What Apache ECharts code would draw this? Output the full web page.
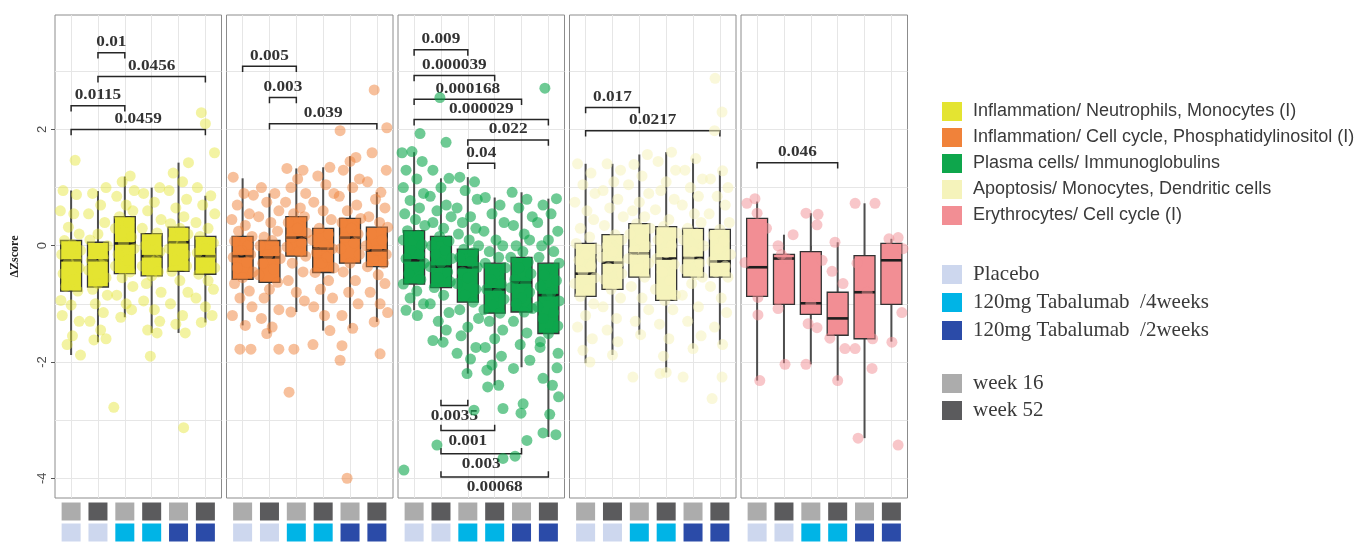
<!DOCTYPE html>
<html>
<head>
<meta charset="utf-8">
<script src="https://cdn.jsdelivr.net/npm/echarts@6/dist/echarts.min.js"></script>
<style>
html,body{margin:0;padding:0;background:#fff;}
#chart{width:1359px;height:543px;}
</style>
</head>
<body>
<div id="chart"></div>
<script>
// ---- categories and keys ----
const pathways = [
  'Inflammation/ Neutrophils, Monocytes (I)',
  'Inflammation/ Cell cycle, Phosphatidylinositol (I)',
  'Plasma cells/ Immunoglobulins',
  'Apoptosis/ Monocytes, Dendritic cells',
  'Erythrocytes/ Cell cycle (I)'
];
const pathwayColors = ['#e4e431', '#f0823a', '#0ea64c', '#f5f3bb', '#f28e94'];
const pointOpacity = [0.45, 0.5, 0.6, 0.55, 0.5];
const treatments = ['Placebo', '120mg Tabalumab  /4weeks', '120mg Tabalumab  /2weeks'];
const treatmentColors = ['#cdd7ee', '#00b4e6', '#2b4ba8'];
const weeks = ['week 16', 'week 52'];
const weekColors = ['#acacac', '#5b5b5d'];
// group order inside every panel
const groupTreatment = [0, 0, 1, 1, 2, 2];
const groupWeek = [0, 1, 0, 1, 0, 1];
const yTickLabels = [-4, -2, 0, 2];
const yGridValues = [-4, -3, -2, -1, 0, 1, 2, 3];
const xGroups = [1, 2, 3, 4, 5, 6];

// ---- box statistics: [lower whisker, Q1, median, Q3, upper whisker] ----
const boxesNeutro = [
  [-1.88, -0.78, -0.25, 0.09, 0.95],
  [-1.66, -0.71, -0.25, 0.06, 0.94],
  [-1.23, -0.48, 0.04, 0.50, 1.19],
  [-1.50, -0.52, -0.18, 0.21, 1.00],
  [-1.50, -0.44, 0.06, 0.32, 1.43],
  [-1.32, -0.49, -0.18, 0.16, 0.86]
];
const boxesCellCycle = [
  [-1.37, -0.58, -0.18, 0.16, 1.16],
  [-1.51, -0.63, -0.20, 0.09, 0.90],
  [-1.14, -0.18, 0.14, 0.50, 1.33],
  [-1.46, -0.46, -0.05, 0.30, 1.35],
  [-1.42, -0.30, 0.14, 0.47, 1.54],
  [-1.31, -0.36, -0.08, 0.32, 0.92]
];
const boxesPlasma = [
  [-1.11, -0.66, -0.25, 0.26, 1.61],
  [-1.63, -0.72, -0.36, 0.16, 1.16],
  [-2.20, -0.97, -0.37, -0.06, 1.18],
  [-2.40, -1.16, -0.75, -0.30, 0.83],
  [-2.09, -1.14, -0.63, -0.20, 0.92],
  [-3.29, -1.51, -0.85, -0.30, 0.81]
];
const boxesApoptosis = [
  [-2.02, -0.87, -0.48, 0.04, 1.41],
  [-1.88, -0.75, -0.29, 0.19, 1.41],
  [-1.53, -0.54, -0.13, 0.38, 1.57],
  [-2.18, -0.94, -0.22, 0.33, 1.61],
  [-1.77, -0.54, -0.21, 0.30, 1.50],
  [-1.70, -0.54, -0.27, 0.28, 1.29]
];
const boxesErythro = [
  [-2.32, -0.87, -0.37, 0.47, 0.76],
  [-2.02, -1.01, -0.22, -0.15, 0.19],
  [-2.04, -1.18, -0.99, -0.10, 0.56],
  [-2.32, -1.54, -1.25, -0.80, 0.06],
  [-3.31, -1.60, -0.80, -0.17, 0.73],
  [-1.65, -1.01, -0.25, 0.04, 0.12]
];

// ---- individual scores per group: [jitter offset, ΔZscore] ----
const pointsNeutro = [
  [[0.15,1.47],[-0.3,0.95],[0.2,0.88],[-0.4,0.6],[0.1,0.55],[-0.1,0.32],[0.3,0.2],[-0.25,0.09],[0.05,0.02],[0.35,-0.08],[-0.35,-0.15],[0.2,-0.22],[-0.1,-0.28],[0.3,-0.38],[-0.3,-0.48],[0.1,-0.58],[-0.2,-0.7],[0.25,-0.78],[-0.38,-0.94],[0.0,-1.02],[-0.33,-1.2],[0.3,-1.3],[0.05,-1.55],[-0.15,-1.7],[0.35,-1.88]],
  [[0.3,1.0],[-0.2,0.9],[0.1,0.7],[-0.35,0.55],[0.25,0.4],[0.0,0.2],[-0.3,0.1],[0.35,0.0],[-0.1,-0.1],[0.2,-0.2],[-0.25,-0.25],[0.1,-0.32],[-0.35,-0.42],[0.3,-0.55],[0.0,-0.65],[-0.2,-0.75],[0.35,-0.85],[-0.1,-1.0],[0.2,-1.15],[-0.3,-1.3],[0.1,-1.45],[-0.15,-1.62],[0.3,-1.6]],
  [[-0.41,-2.78],[0.2,1.2],[-0.1,1.1],[0.35,0.95],[-0.3,0.85],[0.05,0.7],[0.3,0.6],[-0.2,0.5],[0.15,0.4],[-0.35,0.3],[0.25,0.15],[-0.05,0.05],[0.35,-0.05],[-0.25,-0.15],[0.1,-0.25],[-0.35,-0.35],[0.2,-0.45],[-0.1,-0.55],[0.3,-0.7],[-0.3,-0.85],[0.05,-1.0],[0.25,-1.1],[-0.15,-1.23]],
  [[-0.05,-1.9],[0.3,1.0],[-0.3,0.9],[0.1,0.75],[-0.15,0.6],[0.35,0.45],[-0.35,0.3],[0.2,0.22],[0.0,0.1],[-0.25,0.0],[0.3,-0.1],[-0.1,-0.18],[0.15,-0.25],[-0.35,-0.35],[0.25,-0.45],[0.0,-0.52],[-0.2,-0.65],[0.35,-0.8],[-0.3,-0.95],[0.1,-1.1],[0.3,-1.3],[-0.15,-1.45],[0.2,-1.5]],
  [[0.19,-3.13],[0.37,1.43],[-0.2,1.25],[0.15,1.1],[-0.35,0.95],[0.3,0.8],[-0.1,0.65],[0.2,0.5],[-0.3,0.38],[0.05,0.3],[0.35,0.2],[-0.2,0.1],[0.1,0.03],[-0.35,-0.05],[0.25,-0.15],[-0.1,-0.25],[0.3,-0.35],[-0.25,-0.44],[0.05,-0.6],[0.35,-0.8],[-0.3,-1.0],[0.15,-1.2],[-0.1,-1.35],[0.25,-1.5]],
  [[-0.15,2.29],[0.0,2.1],[0.34,1.6],[-0.3,1.0],[0.2,0.86],[-0.1,0.7],[0.35,0.55],[-0.35,0.4],[0.1,0.3],[-0.2,0.16],[0.3,0.05],[0.0,-0.05],[-0.3,-0.12],[0.2,-0.18],[-0.1,-0.28],[0.35,-0.38],[-0.25,-0.49],[0.1,-0.6],[0.3,-0.75],[-0.35,-0.9],[0.0,-1.05],[0.25,-1.2],[-0.15,-1.32]]
];
const pointsCellCycle = [
  [[-0.1,-1.78],[0.31,-1.78],[-0.35,1.18],[0.05,0.9],[0.4,0.87],[-0.2,0.7],[0.25,0.55],[-0.4,0.45],[0.1,0.35],[-0.15,0.25],[0.35,0.16],[-0.3,0.08],[0.2,0.0],[-0.05,-0.08],[0.3,-0.15],[-0.35,-0.2],[0.15,-0.28],[-0.2,-0.38],[0.4,-0.45],[0.0,-0.55],[-0.3,-0.65],[0.25,-0.78],[-0.1,-0.9],[0.35,-1.05],[-0.38,-1.2],[0.1,-1.37]],
  [[0.35,-1.78],[-0.3,1.0],[0.2,0.9],[-0.1,0.75],[0.35,0.6],[-0.4,0.5],[0.05,0.4],[0.3,0.25],[-0.2,0.15],[0.1,0.09],[-0.35,0.0],[0.25,-0.08],[-0.05,-0.15],[0.4,-0.22],[-0.25,-0.3],[0.15,-0.4],[-0.4,-0.5],[0.3,-0.63],[0.0,-0.75],[-0.2,-0.9],[0.35,-1.1],[-0.3,-1.25],[0.1,-1.4],[-0.1,-1.51]],
  [[-0.27,-2.52],[-0.09,-1.78],[-0.35,1.33],[0.25,1.3],[0.05,1.15],[-0.2,1.0],[0.35,0.9],[-0.4,0.75],[0.15,0.65],[-0.1,0.55],[0.3,0.5],[-0.3,0.4],[0.05,0.3],[0.4,0.22],[-0.2,0.14],[0.2,0.05],[-0.35,-0.02],[0.1,-0.1],[0.35,-0.18],[-0.15,-0.3],[0.25,-0.45],[-0.3,-0.6],[0.0,-0.8],[0.3,-0.95],[-0.2,-1.14]],
  [[-0.38,-1.7],[0.25,1.35],[-0.2,1.2],[0.1,1.05],[0.4,0.9],[-0.35,0.75],[0.0,0.6],[0.3,0.45],[-0.15,0.3],[0.2,0.2],[-0.4,0.1],[0.05,0.0],[0.35,-0.05],[-0.25,-0.12],[0.15,-0.2],[-0.05,-0.3],[0.4,-0.38],[-0.3,-0.46],[0.2,-0.6],[-0.1,-0.75],[0.35,-0.9],[-0.35,-1.05],[0.05,-1.2],[0.25,-1.46]],
  [[-0.11,-4.0],[-0.37,-1.97],[-0.3,-1.72],[-0.37,1.98],[0.22,1.52],[0.0,1.45],[-0.25,1.3],[0.35,1.15],[0.1,1.0],[-0.4,0.85],[0.25,0.7],[-0.1,0.6],[0.4,0.47],[-0.3,0.4],[0.05,0.3],[0.3,0.2],[-0.2,0.14],[0.15,0.05],[-0.35,-0.05],[0.35,-0.15],[0.0,-0.3],[-0.25,-0.45],[0.2,-0.6],[-0.05,-0.8],[0.3,-1.0],[-0.3,-1.2],[0.1,-1.42]],
  [[-0.1,2.68],[0.37,2.03],[-0.18,1.6],[0.35,1.3],[-0.35,1.1],[0.15,0.92],[-0.05,0.8],[0.3,0.65],[-0.3,0.5],[0.1,0.4],[0.4,0.32],[-0.2,0.2],[0.2,0.1],[-0.4,0.0],[0.0,-0.08],[0.35,-0.15],[-0.15,-0.22],[0.25,-0.3],[-0.35,-0.36],[0.05,-0.5],[0.3,-0.65],[-0.25,-0.8],[0.12,-1.0],[0.4,-1.15],[0.12,-1.86],[-0.1,-1.31]]
];
const pointsPlasma = [
  [[-0.38,-3.86],[0.22,1.93],[-0.45,1.6],[-0.08,1.62],[0.3,1.45],[-0.3,1.3],[0.1,1.15],[-0.4,1.0],[0.35,0.9],[-0.15,0.78],[0.2,0.65],[-0.35,0.55],[0.05,0.45],[0.4,0.35],[-0.25,0.26],[0.15,0.18],[-0.4,0.1],[0.3,0.02],[-0.1,-0.08],[0.2,-0.15],[-0.3,-0.22],[0.38,-0.3],[0.0,-0.38],[-0.2,-0.48],[0.25,-0.58],[-0.4,-0.66],[0.1,-0.78],[-0.15,-0.9],[0.35,-1.0],[0.12,-1.2],[-0.3,-1.11]],
  [[-0.15,-3.43],[-0.04,2.55],[0.19,1.78],[-0.3,1.3],[0.3,1.16],[0.0,1.0],[-0.4,0.85],[0.2,0.7],[-0.15,0.6],[0.38,0.5],[-0.3,0.4],[0.1,0.3],[-0.05,0.16],[0.3,0.08],[-0.35,0.0],[0.15,-0.08],[-0.2,-0.15],[0.4,-0.22],[0.0,-0.3],[-0.4,-0.36],[0.25,-0.45],[-0.1,-0.55],[0.35,-0.62],[-0.25,-0.72],[0.1,-0.85],[-0.4,-1.0],[0.3,-1.15],[-0.1,-1.3],[0.2,-1.45],[0.08,-1.66],[-0.3,-1.63]],
  [[0.23,-2.83],[-0.4,-1.85],[-0.03,-2.2],[-0.3,1.18],[0.25,1.1],[-0.1,0.95],[0.35,0.8],[-0.4,0.65],[0.1,0.5],[-0.2,0.4],[0.3,0.3],[-0.35,0.2],[0.05,0.1],[0.4,0.0],[-0.15,-0.06],[0.2,-0.12],[-0.3,-0.2],[0.1,-0.28],[0.35,-0.37],[-0.2,-0.45],[0.0,-0.55],[-0.4,-0.65],[0.3,-0.75],[-0.1,-0.85],[0.2,-0.97],[-0.3,-1.1],[0.4,-1.25],[0.0,-1.4],[-0.25,-1.55],[0.3,-1.75],[0.1,-1.95]],
  [[0.31,-2.8],[0.31,-3.66],[-0.29,-2.14],[-0.26,-2.43],[0.15,-2.4],[-0.35,0.83],[0.2,0.7],[-0.1,0.55],[0.35,0.4],[-0.4,0.25],[0.05,0.1],[0.3,0.0],[-0.2,-0.1],[0.15,-0.2],[-0.35,-0.3],[0.4,-0.38],[0.0,-0.48],[-0.15,-0.58],[0.25,-0.66],[-0.3,-0.75],[0.1,-0.82],[0.35,-0.92],[-0.05,-1.02],[-0.4,-1.1],[0.2,-1.16],[-0.2,-1.3],[0.3,-1.45],[0.0,-1.6],[-0.35,-1.75],[0.25,-1.9],[-0.1,-2.05]],
  [[0.06,-2.72],[-0.02,-2.88],[0.2,-3.35],[-0.24,-3.62],[-0.3,-2.11],[0.31,-1.97],[-0.35,0.92],[0.2,0.8],[-0.1,0.65],[0.4,0.5],[-0.3,0.35],[0.1,0.2],[0.3,0.1],[-0.2,0.0],[0.05,-0.1],[-0.4,-0.2],[0.25,-0.28],[-0.1,-0.38],[0.35,-0.48],[-0.25,-0.58],[0.15,-0.63],[-0.4,-0.72],[0.3,-0.8],[0.0,-0.9],[-0.2,-1.0],[0.4,-1.08],[0.1,-1.14],[-0.3,-1.3],[0.2,-1.5],[-0.05,-1.7]],
  [[-0.13,2.71],[-0.2,-3.22],[0.28,-3.25],[-0.2,-2.28],[0.32,-2.1],[-0.31,-1.75],[0.36,-1.85],[0.3,0.81],[-0.2,0.7],[0.1,0.55],[-0.4,0.4],[0.35,0.25],[0.0,0.1],[-0.25,0.0],[0.2,-0.1],[-0.35,-0.2],[0.4,-0.3],[0.05,-0.4],[-0.15,-0.5],[0.3,-0.6],[-0.3,-0.7],[0.1,-0.8],[-0.05,-0.85],[0.4,-0.95],[-0.4,-1.05],[0.2,-1.15],[-0.2,-1.25],[0.35,-1.38],[0.0,-1.51],[-0.3,-1.65],[0.15,-2.4],[0.05,-2.9],[0.38,-2.6]]
];
const pointsApoptosis = [
  [[0.16,-2.0],[-0.3,1.41],[0.2,1.25],[-0.1,1.05],[0.35,0.9],[-0.4,0.75],[0.05,0.6],[0.3,0.45],[-0.2,0.3],[0.15,0.15],[-0.35,0.04],[0.4,-0.05],[0.0,-0.15],[-0.25,-0.25],[0.2,-0.35],[-0.1,-0.45],[0.35,-0.55],[-0.4,-0.65],[0.1,-0.75],[-0.2,-0.87],[0.3,-1.0],[0.0,-1.2],[-0.3,-1.4],[0.25,-1.6],[-0.1,-1.8]],
  [[-0.2,1.41],[0.3,1.3],[0.05,1.1],[-0.35,0.95],[0.2,0.8],[-0.1,0.65],[0.4,0.5],[-0.3,0.35],[0.1,0.19],[0.35,0.1],[-0.2,0.0],[0.0,-0.1],[-0.4,-0.2],[0.25,-0.29],[-0.15,-0.38],[0.35,-0.48],[-0.3,-0.58],[0.1,-0.66],[-0.05,-0.75],[0.3,-0.9],[-0.35,-1.05],[0.15,-1.25],[-0.2,-1.45],[0.2,-1.65],[0.0,-1.88]],
  [[-0.24,-2.26],[0.3,1.57],[-0.2,1.4],[0.1,1.2],[-0.4,1.05],[0.35,0.9],[0.0,0.75],[-0.25,0.6],[0.2,0.5],[-0.1,0.38],[0.4,0.3],[-0.35,0.2],[0.05,0.1],[0.25,0.0],[-0.2,-0.08],[0.15,-0.13],[-0.4,-0.22],[0.35,-0.3],[-0.05,-0.4],[0.2,-0.54],[-0.3,-0.7],[0.1,-0.9],[0.35,-1.1],[-0.15,-1.3],[0.05,-1.53]],
  [[-0.23,-2.2],[0.2,1.61],[-0.3,1.45],[0.35,1.3],[0.0,1.1],[-0.2,0.95],[0.3,0.8],[-0.4,0.62],[0.1,0.45],[-0.1,0.33],[0.4,0.22],[-0.3,0.1],[0.2,0.0],[0.0,-0.12],[-0.35,-0.22],[0.3,-0.32],[-0.15,-0.45],[0.15,-0.6],[-0.4,-0.75],[0.35,-0.85],[-0.05,-0.94],[0.25,-1.1],[-0.25,-1.35],[0.1,-1.6],[-0.1,-1.9],[0.0,-2.18]],
  [[-0.37,-2.26],[0.1,1.5],[-0.3,1.3],[0.35,1.15],[-0.1,1.0],[0.2,0.85],[-0.4,0.7],[0.05,0.55],[0.3,0.4],[-0.2,0.3],[0.15,0.2],[-0.35,0.1],[0.4,0.0],[0.0,-0.1],[-0.15,-0.21],[0.25,-0.3],[-0.3,-0.4],[0.1,-0.5],[0.35,-0.54],[-0.05,-0.65],[-0.4,-0.85],[0.2,-1.05],[-0.2,-1.3],[0.3,-1.55],[0.0,-1.77]],
  [[-0.18,2.88],[0.08,2.3],[-0.29,-2.63],[0.08,-2.26],[-0.2,1.98],[0.1,1.29],[-0.35,1.15],[0.3,1.0],[-0.1,0.85],[0.2,0.7],[-0.4,0.55],[0.35,0.4],[0.0,0.28],[-0.25,0.18],[0.15,0.08],[-0.05,-0.05],[0.4,-0.15],[-0.3,-0.27],[0.2,-0.35],[-0.15,-0.45],[0.3,-0.54],[-0.35,-0.7],[0.05,-0.9],[0.25,-1.15],[-0.2,-1.4],[0.1,-1.7]]
];
const pointsErythro = [
  [[-0.38,0.73],[-0.08,0.81],[0.0,0.56],[-0.45,-0.29],[0.35,0.3],[0.03,-0.89],[0.03,-1.19],[0.1,-2.32]],
  [[-0.22,0.0],[0.34,0.19],[0.1,-0.22],[-0.1,-0.15],[-0.22,-1.08],[0.04,-2.04]],
  [[-0.18,0.56],[0.27,0.54],[0.23,0.36],[0.42,-0.25],[0.0,-0.99],[-0.1,-1.34],[0.23,-1.41],[-0.18,-2.04]],
  [[-0.1,0.06],[-0.21,-0.44],[0.2,-0.65],[-0.29,-1.59],[0.27,-1.77],[0.0,-2.32]],
  [[-0.35,0.73],[0.39,0.73],[-0.28,-0.3],[0.1,-0.8],[-0.35,-1.77],[0.3,-1.6],[0.28,-2.11],[-0.24,-3.31]],
  [[-0.09,0.12],[0.25,0.14],[0.43,-0.05],[0.39,-1.15],[0.02,-1.66],[0.25,-3.43]]
];

// ---- significance brackets: [from group, to group, height, direction, p-value] ----
const bracketsNeutro = [
  [2, 3, 3.32, 1, '0.01'],
  [2, 6, 2.91, 1, '0.0456'],
  [1, 3, 2.41, 1, '0.0115'],
  [1, 6, 2.00, 1, '0.0459']
];
const bracketsCellCycle = [
  [1, 3, 3.09, 1, '0.005'],
  [2, 3, 2.55, 1, '0.003'],
  [2, 6, 2.10, 1, '0.039']
];
const bracketsPlasma = [
  [1, 3, 3.37, 1, '0.009'],
  [1, 4, 2.93, 1, '0.000039'],
  [1, 5, 2.52, 1, '0.000168'],
  [1, 6, 2.17, 1, '0.000029'],
  [3, 6, 1.82, 1, '0.022'],
  [3, 4, 1.42, 1, '0.04'],
  [2, 3, -2.75, -1, '0.0035'],
  [2, 4, -3.18, -1, '0.001'],
  [2, 5, -3.58, -1, '0.003'],
  [2, 6, -3.98, -1, '0.00068']
];
const bracketsApoptosis = [
  [1, 3, 2.38, 1, '0.017'],
  [1, 6, 1.98, 1, '0.0217']
];
const bracketsErythro = [
  [1, 4, 1.43, 1, '0.046']
];

const panelBoxes = [boxesNeutro, boxesCellCycle, boxesPlasma, boxesApoptosis, boxesErythro];
const panelPoints = [pointsNeutro, pointsCellCycle, pointsPlasma, pointsApoptosis, pointsErythro];
const panelBrackets = [bracketsNeutro, bracketsCellCycle, bracketsPlasma, bracketsApoptosis, bracketsErythro];

// ---- layout ----
const Y_MIN = -4.34, Y_MAX = 3.97;
const X_MIN = 0.4, X_MAX = 6.6;
const PANEL_LEFT = 55, PANEL_STEP = 171.5, PANEL_W = 166.5, PANEL_TOP = 15, PANEL_H = 483;
const BOX_HALF = 0.39, TIP = 0.1;
const SERIF = '"Liberation Serif", "Times New Roman", serif';
const SANS = '"Liberation Sans", Arial, sans-serif';

function renderBox(params, api) {
  const x = api.value(0);
  const lo = api.coord([x, api.value(1)]);
  const q1 = api.coord([x, api.value(2)]);
  const md = api.coord([x, api.value(3)]);
  const q3 = api.coord([x, api.value(4)]);
  const hi = api.coord([x, api.value(5)]);
  const xl = api.coord([x - BOX_HALF, 0])[0];
  const xr = api.coord([x + BOX_HALF, 0])[0];
  const whisker = { stroke: '#4d4d4d', lineWidth: 2 };
  return {
    type: 'group',
    children: [
      { type: 'line', shape: { x1: hi[0], y1: hi[1], x2: q3[0], y2: q3[1] }, style: whisker },
      { type: 'line', shape: { x1: q1[0], y1: q1[1], x2: lo[0], y2: lo[1] }, style: whisker },
      { type: 'rect', shape: { x: xl, y: q3[1], width: xr - xl, height: q1[1] - q3[1] },
        style: { fill: api.visual('color'), stroke: '#333', lineWidth: 1.3 } },
      { type: 'line', shape: { x1: xl, y1: md[1], x2: xr, y2: md[1] }, style: { stroke: '#1e1e1e', lineWidth: 2.6 } }
    ]
  };
}

function makeBracketRenderer(labels) {
  return function (params, api) {
    const x1 = api.value(0), x2 = api.value(1), y = api.value(2), dir = api.value(3);
    const a = api.coord([x1, y - dir * TIP]);
    const b = api.coord([x1, y]);
    const c = api.coord([x2, y]);
    const d = api.coord([x2, y - dir * TIP]);
    return {
      type: 'group',
      children: [
        { type: 'polyline', shape: { points: [a, b, c, d] }, style: { stroke: '#262626', lineWidth: 1.5, fill: null } },
        { type: 'text', x: (b[0] + c[0]) / 2, y: b[1] - dir * 3, scaleX: 1.15,
          style: { text: labels[params.dataIndex], x: 0, y: 0, align: 'center',
            verticalAlign: dir > 0 ? 'bottom' : 'top', font: 'bold 15px ' + SERIF, fill: '#333' } }
      ]
    };
  };
}

const grid = [], xAxis = [], yAxis = [], series = [];
const gridLineStyle = { color: '#e6e6e6', width: 1 };

panelBoxes.forEach((boxes, p) => {
  const left = PANEL_LEFT + p * PANEL_STEP;
  // plotting panel
  grid.push({ left: left, top: PANEL_TOP, width: PANEL_W, height: PANEL_H, show: true,
    backgroundColor: '#fff', borderColor: '#8c8c8c', borderWidth: 1, containLabel: false });
  // group strip underneath
  grid.push({ left: left, top: 501, width: PANEL_W, height: 44, show: false });

  const gMain = 2 * p, gStrip = 2 * p + 1;
  xAxis.push({ gridIndex: gMain, type: 'value', min: X_MIN, max: X_MAX,
    axisLine: { show: false }, axisLabel: { show: false },
    axisTick: { show: true, length: 4, lineStyle: { color: '#555' }, customValues: xGroups },
    splitLine: { show: true, lineStyle: gridLineStyle } });
  xAxis.push({ gridIndex: gStrip, type: 'value', min: X_MIN, max: X_MAX, show: false });

  const yMain = yAxis.length;
  yAxis.push({ gridIndex: gMain, type: 'value', min: Y_MIN, max: Y_MAX,
    axisLine: { show: false }, axisLabel: { show: false },
    axisTick: { show: false, customValues: yGridValues },
    splitLine: { show: true, lineStyle: gridLineStyle } });
  const yStrip = yAxis.length;
  yAxis.push({ gridIndex: gStrip, type: 'value', min: 0, max: 2, show: false });
  if (p === 0) {
    yAxis.push({ gridIndex: gMain, type: 'value', min: Y_MIN, max: Y_MAX, position: 'left',
      name: 'ΔZscore', nameLocation: 'middle', nameGap: 34, nameRotate: 90,
      nameTextStyle: { fontFamily: SERIF, fontWeight: 'bold', fontSize: 12, color: '#222' },
      axisLine: { show: false },
      axisTick: { show: true, length: 4, lineStyle: { color: '#555' }, customValues: yTickLabels },
      axisLabel: { show: true, rotate: 90, margin: 6, fontFamily: SANS, fontSize: 13, color: '#4d4d4d',
        customValues: yTickLabels },
      splitLine: { show: false } });
  }

  const color = pathwayColors[p];
  // jittered individual scores
  const pts = [];
  panelPoints[p].forEach((grp, g) => grp.forEach(pt => pts.push([xGroups[g] + pt[0], pt[1]])));
  series.push({ type: 'scatter', xAxisIndex: 2 * p, yAxisIndex: yMain, data: pts,
    symbol: 'circle', symbolSize: 11, silent: true,
    itemStyle: { color: color, opacity: pointOpacity[p] } });

  // boxes
  series.push({ type: 'custom', name: pathways[p], xAxisIndex: 2 * p, yAxisIndex: yMain,
    renderItem: renderBox, itemStyle: { color: color },
    encode: { x: 0, y: [1, 2, 3, 4, 5] },
    data: boxes.map((b, g) => [xGroups[g]].concat(b)) });

  // p-value brackets
  const br = panelBrackets[p];
  series.push({ type: 'custom', xAxisIndex: 2 * p, yAxisIndex: yMain, silent: true,
    renderItem: makeBracketRenderer(br.map(b => b[4])),
    encode: { x: [0, 1], y: 2 },
    data: br.map(b => [b[0], b[1], b[2], b[3]]) });

  // week strip
  weeks.forEach((w, wi) => {
    series.push({ type: 'scatter', name: w, xAxisIndex: 2 * p + 1, yAxisIndex: yStrip,
      symbol: 'rect', symbolSize: [19, 18], silent: true,
      itemStyle: { color: weekColors[wi], opacity: 1 },
      data: groupWeek.map((v, g) => v === wi ? [xGroups[g], 1.5] : null).filter(Boolean) });
  });
  // treatment strip
  treatments.forEach((t, ti) => {
    series.push({ type: 'scatter', name: t, xAxisIndex: 2 * p + 1, yAxisIndex: yStrip,
      symbol: 'rect', symbolSize: [19, 18], silent: true,
      itemStyle: { color: treatmentColors[ti], opacity: 1 },
      data: groupTreatment.map((v, g) => v === ti ? [xGroups[g], 0.5] : null).filter(Boolean) });
  });
});

const legendBase = { orient: 'vertical', left: 937, icon: 'rect', itemWidth: 20, itemHeight: 19,
  selectedMode: false, itemStyle: { borderWidth: 0, opacity: 1 } };

const option = {
  animation: false,
  backgroundColor: '#fff',
  grid: grid,
  xAxis: xAxis,
  yAxis: yAxis,
  legend: [
    Object.assign({}, legendBase, { data: pathways, top: 97, itemGap: 7,
      textStyle: { fontFamily: SANS, fontSize: 18, color: '#3a3a3a', padding: [0, 0, 0, 6] } }),
    Object.assign({}, legendBase, { data: treatments, top: 259, itemGap: 7,
      textStyle: { fontFamily: SERIF, fontSize: 21, color: '#3a3a3a', padding: [0, 0, 0, 6] } }),
    Object.assign({}, legendBase, { data: weeks, top: 368, itemGap: 6,
      textStyle: { fontFamily: SERIF, fontSize: 21, color: '#3a3a3a', padding: [0, 0, 0, 6] } })
  ],
  series: series
};

const chart = echarts.init(document.getElementById('chart'), null, { renderer: 'canvas' });
chart.setOption(option);
</script>
</body>
</html>
